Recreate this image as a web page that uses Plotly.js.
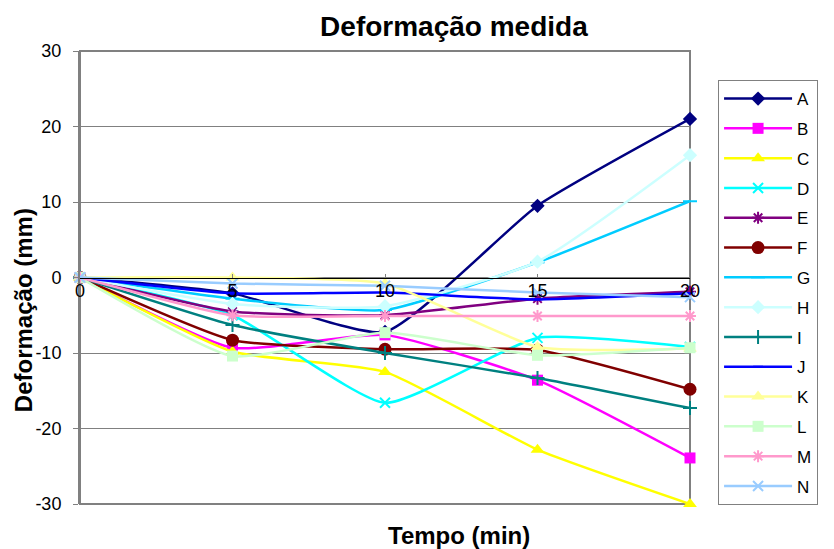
<!DOCTYPE html>
<html>
<head>
<meta charset="utf-8">
<script src="https://cdn.plot.ly/plotly-3.0.1.min.js"></script>
<style>html,body{margin:0;padding:0;background:#fff;}#chart{width:834px;height:549px;}</style>
</head>
<body>
<div id="chart"></div>
<script>
const tempo = [0, 5, 10, 15, 20];
const seriesNames = ["A","B","C","D","E","F","G","H","I","J","K","L","M","N"];
const A = [0, -2.1, -7.2, 9.5, 21.0];
const B = [0, -9.3, -7.6, -13.6, -23.9];
const C = [0, -9.8, -12.5, -22.8, -30.0];
const D = [0, -5.0, -16.6, -8.0, -9.2];
const E = [0, -4.5, -5.0, -2.8, -1.9];
const F = [0, -8.3, -9.5, -9.6, -14.8];
const G = [0, -2.8, -4.3, 2.0, 10.1];
const H = [0, -3.5, -3.8, 2.1, 16.2];
const I = [0, -6.3, -10.0, -13.3, -17.3];
const J = [0, -2.1, -2.0, -2.9, -2.1];
const K = [0, 0.0, -0.8, -9.2, -9.4];
const L = [0, -10.4, -7.3, -10.3, -9.3];
const M = [0, -5.0, -5.1, -5.1, -5.1];
const N = [0, -0.8, -1.1, -2.0, -2.6];
const yTicks = [-30, -20, -10, 0, 10, 20, 30];
const xTicks = [0, 5, 10, 15, 20];

const values = [A,B,C,D,E,F,G,H,I,J,K,L,M,N];
const colors = ["#000080","#FF00FF","#FFFF00","#00FFFF","#800080","#800000","#00CCFF","#CCFFFF","#008080","#0000FF","#FFFF99","#CCFFCC","#FF99CC","#99CCFF"];
const symbols = ["diamond","square","triangle-up","x-thin-open","asterisk-open","circle","line-ew-open","diamond","cross-thin-open","line-ew-open","triangle-up","square","asterisk-open","x-thin-open"];
const sizes = [11,11,12,10,10,13,10,11,10,7,12,11,10,10];

const traces = values.map((v, i) => {
  const open = symbols[i].endsWith("open");
  return {
    x: tempo, y: v, name: seriesNames[i], type: "scatter", mode: "lines+markers",
    legendgroup: "g" + i,
    line: {color: colors[i], width: 2.5, shape: "spline", smoothing: 0.5},
    marker: {symbol: symbols[i], size: sizes[i], color: colors[i],
             line: {color: colors[i], width: open ? 2 : 0}},
    cliponaxis: false
  };
});

const layout = {
  width: 834, height: 549,
  margin: {l: 80, r: 144, t: 51, b: 45},
  paper_bgcolor: "#ffffff", plot_bgcolor: "#ffffff",
  font: {family: "Liberation Sans, Arial, sans-serif", color: "#000"},
  title: {text: "<b>Deformação medida</b>", font: {size: 28, family: "Liberation Sans, Arial, sans-serif"},
          x: 0.613, xanchor: "center", xref: "paper", y: 0.953, yanchor: "middle", yref: "container"},
  xaxis: {range: [0, 20], tickvals: xTicks, ticktext: xTicks.map(String),
          anchor: "free", position: 0.5, showgrid: false, zeroline: false,
          showline: true, linecolor: "#000", linewidth: 1,
          ticks: "inside", ticklen: 4, tickcolor: "#808080",
          tickfont: {size: 18}, ticklabelstandoff: -3},
  yaxis: {range: [-30, 30], tickvals: yTicks, ticktext: yTicks.map(String),
          showgrid: true, gridcolor: "#808080", gridwidth: 1, zeroline: false,
          showline: true, linecolor: "#808080", linewidth: 2,
          ticks: "outside", ticklen: 5, tickcolor: "#808080",
          tickfont: {size: 18}, ticklabelstandoff: 8},
  shapes: [{type: "rect", xref: "paper", yref: "paper", x0: 0, x1: 1, y0: 0, y1: 1,
            line: {color: "#808080", width: 2}, layer: "below"}],
  annotations: [
    {text: "<b>Tempo (min)</b>", xref: "paper", yref: "paper", x: 0.621, y: -0.07,
     xanchor: "center", yanchor: "middle", showarrow: false, font: {size: 24}},
    {text: "<b>Deformação (mm)</b>", xref: "paper", yref: "paper", x: -0.0934, y: 0.428,
     xanchor: "center", yanchor: "middle", textangle: -90, showarrow: false, font: {size: 24}}
  ],
  legend: {x: 1.046, xanchor: "left", y: 0.936, yanchor: "top",
           bordercolor: "#808080", borderwidth: 1, bgcolor: "#fff",
           font: {size: 17}, tracegroupgap: 4.7, itemwidth: 68},
  showlegend: true
};

Plotly.newPlot("chart", traces, layout, {displayModeBar: false, staticPlot: true});
</script>
</body>
</html>
